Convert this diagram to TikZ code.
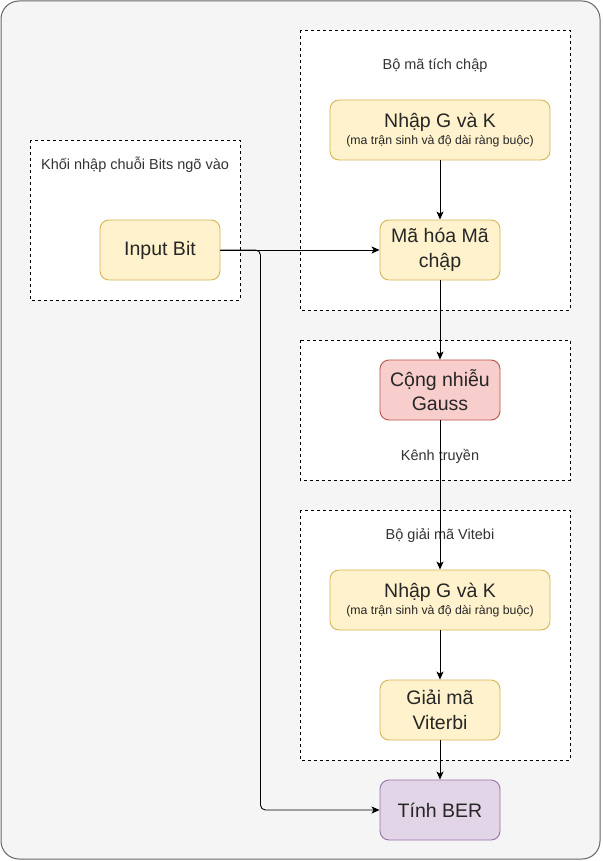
\documentclass[tikz,border=0pt]{standalone}
\usepackage{fontspec}
\setmainfont{Liberation Sans}
\usetikzlibrary{arrows.meta}

\definecolor{khungnen}{HTML}{F5F5F5}
\definecolor{vienxam}{HTML}{666666}
\definecolor{vangnen}{HTML}{FFF2CC}
\definecolor{vangvien}{HTML}{D6B656}
\definecolor{donen}{HTML}{F8CECC}
\definecolor{dovien}{HTML}{B85450}
\definecolor{timnen}{HTML}{E1D5E7}
\definecolor{timvien}{HTML}{9673A6}
\definecolor{chuxam}{HTML}{333333}

\tikzset{
  khoi/.style={draw=black, fill=white, line width=0.8pt, dash pattern=on 3pt off 3pt},
  nhan/.style={text=chuxam, font=\fontsize{14.5}{17}\selectfont},
  hop/.style={rounded corners=9pt, line width=0.9pt, minimum height=60pt,
    align=center, text=black!85, font=\fontsize{19.5}{24.5}\selectfont},
  vang/.style={hop, draw=vangvien, fill=vangnen},
  do/.style={hop, draw=dovien, fill=donen},
  tim/.style={hop, draw=timvien, fill=timnen},
  noi/.style={->, line width=0.9pt}
}

\begin{document}
\begin{tikzpicture}[x=1pt, y=-1pt, >={Stealth[length=8pt,width=7pt,inset=2pt]}]

    \useasboundingbox (0,0) rectangle (602,861);

    % Khung nen
    \draw[fill=khungnen, draw=vienxam, line width=1pt, rounded corners=18pt] (1,1) rectangle (600,859);

    % Cac khoi net dut
    \draw[khoi] (30,140) rectangle (240,300);
    \draw[khoi] (300,30) rectangle (570,310);
    \draw[khoi] (300,340) rectangle (570,480);
    \draw[khoi] (300,510) rectangle (570,760);

    % Nhan cac khoi
    \node[nhan] (lbnhap) at (135,165) {Khối nhập chuỗi Bits ngõ vào};
    \node[nhan] (lbma) at (435,66) {Bộ mã tích chập};
    \node[nhan] (lbkenh) at (440,456) {Kênh truyền};
    \node[nhan] (lbgiai) at (440,536) {Bộ giải mã Vitebi};

    % Cac hop
    \node[vang, minimum width=120pt] (inbit) at (160,250) {Input Bit};
    \node[vang, minimum width=220pt] (nhapa) at (440,130)
      {Nhập G và K\\[-7pt]{\fontsize{12.3}{14}\selectfont (ma trận sinh và độ dài ràng buộc)}};
    \node[vang, minimum width=120pt] (mahoa) at (440,250) {Mã hóa Mã\\chập};
    \node[do, minimum width=120pt] (nhieu) at (440,390) {Cộng nhiễu\\Gauss};
    \node[vang, minimum width=220pt] (nhapb) at (440,600)
      {Nhập G và K\\[-7pt]{\fontsize{12.3}{14}\selectfont (ma trận sinh và độ dài ràng buộc)}};
    \node[vang, minimum width=120pt] (giaima) at (440,710) {Giải mã\\Viterbi};
    \node[tim, minimum width=120pt] (ber) at (440,810) {Tính BER};

    % Cac mui ten
    \draw[noi] (inbit.east) -- (mahoa.west);
    \draw[noi, rounded corners=5pt] (inbit.east) -- ++(40,0) |- (ber.west);
    \draw[noi] (nhapa.south) -- (mahoa.north);
    \draw[noi] (mahoa.south) -- (nhieu.north);
    \draw[noi] (nhieu.south) -- (nhapb.north);
    \draw[noi] (nhapb.south) -- (giaima.north);
    \draw[noi] (giaima.south) -- (ber.north);

\end{tikzpicture}
\end{document}
